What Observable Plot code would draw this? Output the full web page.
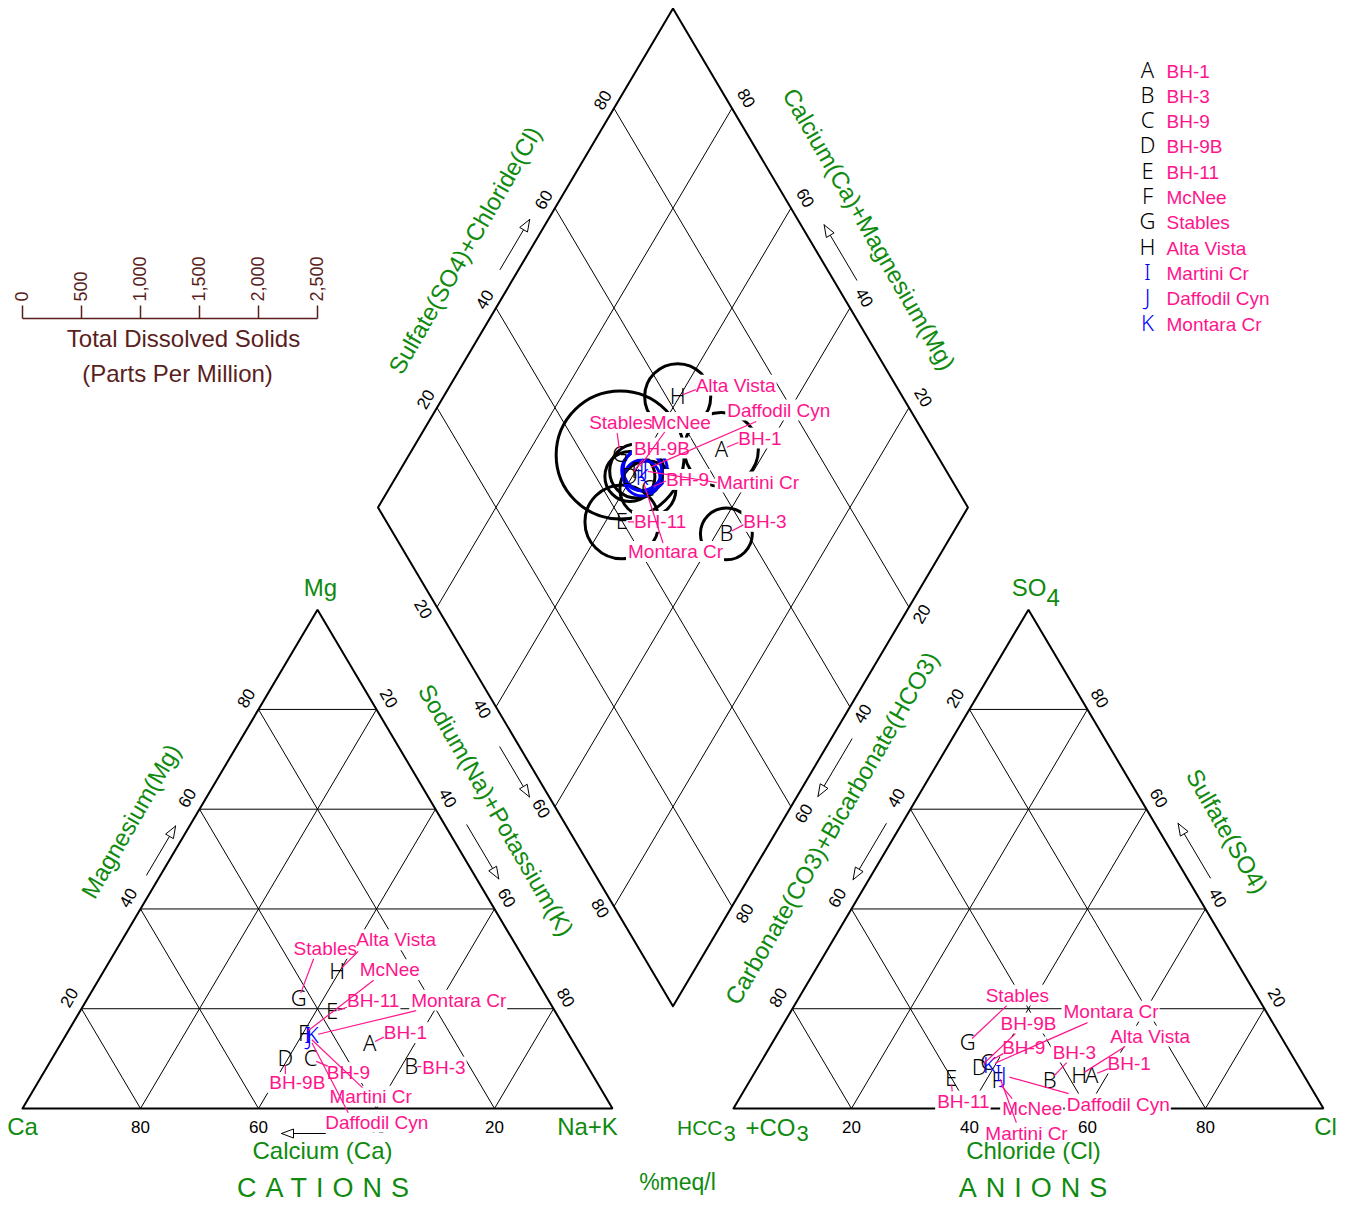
<!DOCTYPE html>
<html><head><meta charset="utf-8">
<script src="https://cdn.jsdelivr.net/npm/d3@7"></script>
<script src="https://cdn.jsdelivr.net/npm/@observablehq/plot@0.6"></script>
<style>body{margin:0;background:#fff} svg{display:block}</style>
</head><body><div id="chart"></div>
<script>
// ---------------- data ----------------
const samples = ["BH-1","BH-3","BH-9","BH-9B","BH-11","McNee","Stables","Alta Vista","Martini Cr","Daffodil Cyn","Montara Cr"];
const symbols = ["A","B","C","D","E","F","G","H","I","J","K"];
const waterType = ["ground","ground","ground","ground","ground","ground","ground","ground","surface","surface","surface"];
// cations, % meq/l
const calcium         = [34.7, 29.9, 46.2, 50.5, 37.9, 44.9, 42.2, 33.0, 44.4, 44.3, 43.6];
const magnesium       = [12.9,  8.4,  9.9,  9.9, 19.3, 14.9, 22.0, 27.3, 14.6, 14.2, 14.6];
const sodiumPotassium = [52.4, 61.7, 43.9, 39.6, 42.8, 40.2, 35.8, 39.7, 41.0, 41.5, 41.8];
// anions, % meq/l
const bicarbonate     = [36.0, 43.6, 52.4, 54.2, 60.1, 52.5, 53.7, 38.1, 51.6, 50.9, 52.3];
const sulfate         = [ 6.6,  5.6,  9.2,  8.2,  6.0,  5.6, 13.2,  6.6,  7.0,  6.6,  8.6];
const chloride        = [57.4, 50.8, 38.4, 37.6, 33.9, 41.9, 33.1, 55.3, 41.4, 42.5, 39.1];
// total dissolved solids, ppm
const tds             = [627, 440, 475, 424, 627, 458, 1085, 560, 339, 373, 305];
const gridTicks = [20, 40, 60, 80];
const tdsTicks = [0, 500, 1000, 1500, 2000, 2500];
const legendNames = samples;

// ---------------- layout (px offsets for annotations) ----------------
const cationLabelOffsets = [[14,-11,14,-7],[11,1,10,0],[16,14,17,7],[-16,24,0,15],[15,-11,15,-5],[56,-64,70,-54],[-5,-50,15,-40],[19,-32,21,-21],[22,61,55,52],[16,85,39,75],[99,-35,104,-25]];
const anionLabelOffsets  = [[16,-12,17,-7],[3,-28,17,-18],[15,-15,16,-9],[21,-44,36,-34],[-14,23,1,13],[5,28,15,18],[18,-47,39,-37],[31,-39,46,-29],[-13,60,18,49],[63,29,65,18],[74,-54,98,-43]];
const diamondLabelOffsets= [[17,-11,17,-7],[17,-12,17,-9],[18,-9,18,-8],[4,-28,13,-17],[12,0,12,0],[14,-48,28,-39],[-31,-32,-3,-22],[18,-11,18,-7],[75,12,75,12],[82,-59,111,-48],[-14,74,21,65]];

const FONT = "Liberation Sans, Arial, sans-serif";
const LETTERFONT = "Noto Sans, DejaVu Sans, sans-serif";
const PINK = "#ff148c", GREEN = "#0f8a0f", MAROON = "#5a1e1e", BLUE = "#0000ff";
const LABELSIZE = 19;

// ---------------- geometry ----------------
const X0 = 22, SX = 5.9, Y0 = 1108, SY = 5.76;
const TH = Math.sqrt(3) / 2 * 100;
const GAP = 20.5;
const B = [100 + GAP / 2, GAP * Math.sqrt(3) / 2];
const XMAX = 200 + GAP, YMAX = B[1] + 2 * TH;
const RMAX = 147.5;
const toPx = ([x, y]) => [X0 + x * SX, Y0 - y * SY];
const toU = ([px, py]) => [(px - X0) / SX, (Y0 - py) / SY];
const cat = (ca, mg, na) => [na + mg / 2, mg * TH / 100];
const an = (h, s, c) => [100 + GAP + c + s / 2, s * TH / 100];
const dia = (u, v) => [B[0] + (v - u) / 2, B[1] + (u + v) * TH / 100];

const rows = samples.map((name, i) => ({
  name, symbol: symbols[i], type: waterType[i], tds: tds[i],
  c: cat(calcium[i], magnesium[i], sodiumPotassium[i]),
  a: an(bicarbonate[i], sulfate[i], chloride[i]),
  d: dia(100 - sodiumPotassium[i], sulfate[i] + chloride[i])
}));

// grid
const grid = [];
const seg = (arr, p, q) => arr.push({x1: p[0], y1: p[1], x2: q[0], y2: q[1]});
for (const k of gridTicks) {
  seg(grid, cat(100 - k, k, 0), cat(0, k, 100 - k));
  seg(grid, cat(100 - k, 0, k), cat(0, 100 - k, k));
  seg(grid, cat(k, 0, 100 - k), cat(k, 100 - k, 0));
  seg(grid, an(100 - k, k, 0), an(0, k, 100 - k));
  seg(grid, an(100 - k, 0, k), an(0, 100 - k, k));
  seg(grid, an(k, 0, 100 - k), an(k, 100 - k, 0));
  seg(grid, dia(k, 0), dia(k, 100));
  seg(grid, dia(0, k), dia(100, k));
}
const polys = [];
const poly = (id, pts) => pts.concat([pts[0]]).forEach(p => polys.push({id, x: p[0], y: p[1]}));
poly("cat", [cat(100,0,0), cat(0,0,100), cat(0,100,0)]);
poly("an", [an(100,0,0), an(0,0,100), an(0,100,0)]);
poly("dia", [dia(0,0), dia(100,0), dia(100,100), dia(0,100)]);

// tick labels
const ticks = [];
const tick = (pt, off, rot, t) => { const p = toPx(pt); ticks.push({p: toU([p[0] + off[0], p[1] + off[1]]), r: rot, t: String(t)}); };
for (const k of gridTicks) {
  tick(cat(100 - k, k, 0), [-12, -11], -60, k);
  tick(cat(0, 100 - k, k), [12, -11], 60, k);
  tick(cat(k, 0, 100 - k), [0, 19], 0, k);
  tick(an(k, 100 - k, 0), [-14, -11], -60, k);
  tick(an(0, k, 100 - k), [12, -11], 60, k);
  tick(an(100 - k, 0, k), [0, 19], 0, k);
  tick(dia(100, k), [-11, -8], -60, k);
  tick(dia(k, 100), [14, -10], 60, k);
  tick(dia(100 - k, 0), [-14, 2], 60, k);
  tick(dia(0, 100 - k), [13, 7], -60, k);
}

// arrows along edges
const cC = cat(100/3, 100/3, 100/3), aC = an(100/3, 100/3, 100/3), dC = dia(50, 50);
const arrowSpecs = [
  {P: cat(100,0,0), Q: cat(0,100,0), t0: 0.455, t1: 0.554, off: 12, C: cC},
  {P: cat(0,100,0), Q: cat(0,0,100), t0: 0.450, t1: 0.559, off: 19, C: cC},
  {P: cat(0,0,100), Q: cat(100,0,0), t0: 0.486, t1: 0.561, off: 25, C: cC},
  {P: an(0,100,0), Q: an(100,0,0), t0: 0.442, t1: 0.555, off: 13.5, C: aC},
  {P: an(0,0,100), Q: an(0,100,0), t0: 0.441, t1: 0.551, off: 20, C: aC},
  {P: dia(100,0), Q: dia(0,0), t0: 0.462, t1: 0.563, off: 17, C: dC},
  {P: dia(0,100), Q: dia(0,0), t0: 0.445, t1: 0.561, off: 18, C: dC},
  {P: dia(100,0), Q: dia(100,100), t0: 0.460, t1: 0.561, off: 16, C: dC},
  {P: dia(0,100), Q: dia(100,100), t0: 0.4345, t1: 0.546, off: 20, C: dC}
];
const shafts = [], heads = [];
arrowSpecs.forEach((s, i) => {
  const p = toPx(s.P), q = toPx(s.Q), c = toPx(s.C);
  const L = Math.hypot(q[0] - p[0], q[1] - p[1]);
  const d = [(q[0] - p[0]) / L, (q[1] - p[1]) / L];
  let n = [-d[1], d[0]];
  const mid = [(p[0] + q[0]) / 2, (p[1] + q[1]) / 2];
  if ((mid[0] - c[0]) * n[0] + (mid[1] - c[1]) * n[1] < 0) n = [-n[0], -n[1]];
  const at = t => [p[0] + d[0] * L * t + n[0] * s.off, p[1] + d[1] * L * t + n[1] * s.off];
  const a = at(s.t0), b = at(s.t1);
  const base = [b[0] - d[0] * 12, b[1] - d[1] * 12];
  const h1 = [base[0] + n[0] * 4.5, base[1] + n[1] * 4.5];
  const h2 = [base[0] - n[0] * 4.5, base[1] - n[1] * 4.5];
  const A = toU(a), Bb = toU(base);
  shafts.push({x1: A[0], y1: A[1], x2: Bb[0], y2: Bb[1]});
  [b, h1, h2, b].forEach(pt => { const u = toU(pt); heads.push({id: i, x: u[0], y: u[1]}); });
});

// text measuring for label boxes
const ctx = document.createElement("canvas").getContext("2d");
ctx.font = LABELSIZE + "px Liberation Sans, Arial, sans-serif";

// sample labels with leaders
function labelLayer(key, offsets) {
  const labels = [], leaders = [], boxes = [];
  rows.forEach((r, i) => {
    const [px, py] = toPx(r[key]);
    const [lx, ly, ex, ey] = offsets[i];
    labels.push({name: r.name, p: toU([px + lx, py + ly])});
    const w = ctx.measureText(r.name).width;
    const b1 = toU([px + lx - 1.5, py + ly - LABELSIZE * 0.55]), b2 = toU([px + lx + w + 1.5, py + ly + LABELSIZE * 0.55]);
    boxes.push({x1: b1[0], y1: b1[1], x2: b2[0], y2: b2[1]});
    const len = Math.hypot(ex, ey);
    if (len > 7) {
      const s = 6 / len;
      const a = toU([px + ex * s, py + ey * s]), b = toU([px + ex, py + ey]);
      leaders.push({x1: a[0], y1: a[1], x2: b[0], y2: b[1]});
    }
  });
  return {labels, leaders, boxes};
}
const layers = [labelLayer("c", cationLabelOffsets), labelLayer("a", anionLabelOffsets), labelLayer("d", diamondLabelOffsets)];
const allLabels = layers.flatMap(l => l.labels), allLeaders = layers.flatMap(l => l.leaders), allBoxes = layers.flatMap(l => l.boxes);

// letters in all three plots
const letters = rows.flatMap(r => [r.c, r.a, r.d].map(p => ({symbol: r.symbol, type: r.type, x: p[0], y: p[1]})));

// annotations (px positions)
const U = (px, py) => toU([px, py]);
const ann = (t, px, py, r = 0) => { const u = U(px, py); return {t, x: u[0], y: u[1], r}; };
const greenTitles = [
  ann("Mg", 320, 588), ann("Ca", 22, 1127), ann("Na+K", 587, 1127), ann("Cl", 1325, 1127),
  ann("Calcium (Ca)", 322, 1151), ann("Chloride (Cl)", 1033, 1151),
  ann("Magnesium(Mg)", 131, 821, -60), ann("Sodium(Na)+Potassium(K)", 495, 810, 60),
  ann("Carbonate(CO3)+Bicarbonate(HCO3)", 832, 828, -60), ann("Sulfate(SO4)", 1226, 831, 60),
  ann("Sulfate(SO4)+Chloride(Cl)", 465, 250, -60), ann("Calcium(Ca)+Magnesium(Mg)", 868, 229, 60)
];
const subStart = [ann("3", 723, 1133), ann("3", 796, 1133)];
const bigStart = [ann("+CO", 745, 1128), ann("4", 1046, 598)];
const soEnd = [ann("SO", 1046, 588)];
const hccEnd = [ann("HCC", 722, 1128)];
const bigTitles = [ann("CATIONS", 327, 1188), ann("ANIONS", 1037, 1188)];

// legend
const legendRows = legendNames.map((n, i) => {
  const a = U(1147, 70 + i * 25.3), b = U(1166, 71 + i * 25.3);
  return {symbol: symbols[i], type: waterType[i], name: n, lx: a[0], ly: a[1], tx: b[0], ty: b[1]};
});

// TDS scale bar
const tdsX = v => v * 2 * RMAX / 2500 / SX;
const barY = U(0, 318)[1], tickTop = U(0, 305)[1], lblY = U(0, 301)[1];
const tdsLines = [{x1: tdsX(0), y1: barY, x2: tdsX(2500), y2: barY}].concat(tdsTicks.map(v => ({x1: tdsX(v), y1: barY, x2: tdsX(v), y2: tickTop})));
const tdsTitles = [ann("Total Dissolved Solids", 183, 339), ann("(Parts Per Million)", 177, 374)];

const labelText = (data, o) => Plot.text(data, Object.assign({x: "x", y: "y", text: "t", fontFamily: FONT, lineAnchor: "middle"}, o));
const letterOpts = {fontSize: 22, fontFamily: LETTERFONT, fontWeight: 300, lineAnchor: "middle"};

const chart = Plot.plot({
  width: 1348, height: 1205, margin: 0,
  x: {domain: [0, XMAX], range: [X0, X0 + XMAX * SX], axis: null},
  y: {domain: [0, YMAX], range: [Y0, Y0 - YMAX * SY], axis: null},
  r: {type: "linear", domain: [0, 2500], range: [0, RMAX]},
  style: {fontFamily: FONT, background: "white", overflow: "visible"},
  marks: [
    Plot.link(grid, {x1: "x1", y1: "y1", x2: "x2", y2: "y2", stroke: "black", strokeWidth: 1}),
    Plot.line(polys, {x: "x", y: "y", z: "id", stroke: "black", strokeWidth: 2, strokeLinejoin: "miter"}),
    Plot.dot(rows.filter(r => r.type === "ground"), {x: d => d.d[0], y: d => d.d[1], r: "tds", stroke: "black", strokeWidth: 3, fill: "none"}),
    Plot.dot(rows.filter(r => r.type === "surface"), {x: d => d.d[0], y: d => d.d[1], r: "tds", stroke: BLUE, strokeWidth: 3, fill: "none"}),
    Plot.link(shafts, {x1: "x1", y1: "y1", x2: "x2", y2: "y2", stroke: "black", strokeWidth: 1}),
    Plot.line(heads, {x: "x", y: "y", z: "id", stroke: "black", strokeWidth: 1, fill: "white"}),
    Plot.text(letters.filter(d => d.type === "ground"), {x: "x", y: "y", text: "symbol", fill: "black", ...letterOpts}),
    Plot.text(letters.filter(d => d.type === "surface"), {x: "x", y: "y", text: "symbol", fill: BLUE, ...letterOpts}),
    Plot.text(ticks, {x: d => d.p[0], y: d => d.p[1], text: "t", rotate: "r", lineAnchor: "middle", fill: "black", stroke: "white", strokeWidth: 4, paintOrder: "stroke", fontSize: 17, fontFamily: FONT}),
    Plot.rect(allBoxes, {x1: "x1", x2: "x2", y1: "y1", y2: "y2", fill: "white"}),
    Plot.link(allLeaders, {x1: "x1", y1: "y1", x2: "x2", y2: "y2", stroke: PINK, strokeWidth: 1.2}),
    Plot.text(allLabels, {x: d => d.p[0], y: d => d.p[1], text: "name", textAnchor: "start", lineAnchor: "middle", fill: PINK, fontSize: LABELSIZE, fontFamily: FONT}),
    labelText(greenTitles, {rotate: "r", fill: GREEN, fontSize: 24}),
    labelText(subStart, {textAnchor: "start", fill: GREEN, fontSize: 22}),
    labelText(bigStart, {textAnchor: "start", fill: GREEN, fontSize: 24}),
    labelText(soEnd, {textAnchor: "end", fill: GREEN, fontSize: 24}),
    labelText(hccEnd, {textAnchor: "end", fill: GREEN, fontSize: 21}),
    labelText(bigTitles, {fill: GREEN, fontSize: 27}),
    labelText([ann("%meq/l", 677, 1182)], {fill: GREEN, fontSize: 23}),
    // legend
    Plot.text(legendRows.filter(d => d.type === "ground"), {x: "lx", y: "ly", text: "symbol", fill: "black", ...letterOpts}),
    Plot.text(legendRows.filter(d => d.type === "surface"), {x: "lx", y: "ly", text: "symbol", fill: BLUE, ...letterOpts}),
    Plot.text(legendRows, {x: "tx", y: "ty", text: "name", textAnchor: "start", lineAnchor: "middle", fill: PINK, fontSize: 19, fontFamily: FONT}),
    // TDS scale
    Plot.link(tdsLines, {x1: "x1", y1: "y1", x2: "x2", y2: "y2", stroke: MAROON, strokeWidth: 1.5}),
    Plot.text(tdsTicks, {x: v => tdsX(v), y: () => lblY, text: v => d3.format(",")(v), rotate: -90, textAnchor: "start", lineAnchor: "middle", fill: MAROON, fontSize: 18, fontFamily: FONT}),
    labelText(tdsTitles, {fill: MAROON, fontSize: 24})
  ]
});
d3.select(chart).selectAll("text").filter(function() { return this.textContent === "CATIONS" || this.textContent === "ANIONS"; }).attr("letter-spacing", "9px");
d3.select(chart).selectAll("g[font-weight='300']").attr("font-stretch", "condensed");
document.getElementById("chart").appendChild(chart);
</script>
</body></html>
